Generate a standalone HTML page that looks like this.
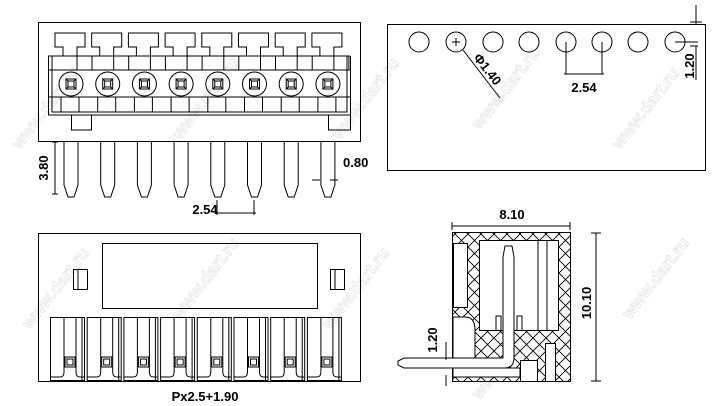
<!DOCTYPE html>
<html><head><meta charset="utf-8"><style>
html,body{margin:0;padding:0;background:#fff;}
svg{display:block;font-family:"Liberation Sans",Arial,sans-serif;}
</style></head><body>
<svg width="721" height="406" viewBox="0 0 721 406" xmlns="http://www.w3.org/2000/svg">
<defs>
<pattern id="h" width="13" height="13" patternUnits="userSpaceOnUse">
<path d="M0,0L13,13M13,0L0,13" stroke="#000" stroke-width="0.9"/>
</pattern>
<g id="top">
<path d="M63,56V47H55V33H85V47H77V56" fill="none"/>
<rect x="77" y="56" width="15" height="14" fill="none"/>
<circle cx="71" cy="84" r="12" fill="none"/>
<rect x="66" y="79" width="10" height="10" fill="none"/>
<rect x="68" y="81" width="6" height="6" fill="none"/>
<path d="M66,79L68,81M76,79L74,81M66,89L68,87M76,89L74,87" fill="none"/>
<rect x="61" y="97" width="18" height="15" fill="none"/>
<path d="M64,142V185L68,197H74L78,185V142" fill="none"/>
</g>
<g id="slot">
<rect x="50.5" y="317.5" width="34" height="63" fill="none"/>
<path d="M64,317V372Q64,377 60,377H50M76,317V372Q76,377 80,377H84M82,317V380" fill="none"/>
<rect x="65" y="357" width="10" height="10" fill="none"/>
<rect x="67" y="359" width="6" height="6" fill="none"/>
</g>
</defs>
<g fill="none" stroke="#e4e4e4" stroke-width="0.8" font-size="17" font-weight="bold">
<text transform="translate(20,150) rotate(-52)">www.dart.ru</text>
<text transform="translate(180,140) rotate(-52)">www.dart.ru</text>
<text transform="translate(340,140) rotate(-52)">www.dart.ru</text>
<text transform="translate(480,130) rotate(-52)">www.dart.ru</text>
<text transform="translate(620,150) rotate(-52)">www.dart.ru</text>
<text transform="translate(30,330) rotate(-52)">www.dart.ru</text>
<text transform="translate(180,320) rotate(-52)">www.dart.ru</text>
<text transform="translate(330,330) rotate(-52)">www.dart.ru</text>
<text transform="translate(480,400) rotate(-52)">www.dart.ru</text>
<text transform="translate(630,320) rotate(-52)">www.dart.ru</text>
</g>
<g stroke="#000" stroke-width="1" fill="none">
<rect x="38.5" y="22.5" width="322" height="119"/>
<path d="M48.5,56V115H350.5V56M52,56V112H347V56M48,56H350M48,70H350M48,97H350"/>
<use href="#top"/>
<use href="#top" x="36.7"/><use href="#top" x="73.4"/><use href="#top" x="110.1"/>
<use href="#top" x="146.8"/><use href="#top" x="183.5"/><use href="#top" x="220.2"/><use href="#top" x="256.9"/>
<rect x="71.5" y="115" width="20" height="15"/>
<rect x="328.5" y="115" width="22" height="15"/>
<path d="M55,142V194M52,142H58M52,194H58"/>
<path d="M312,180H320M330,180H338M217,200V215M254,200V215M215,213H256"/>
<rect x="38.5" y="233.5" width="322" height="148"/>
<rect x="102.5" y="243.5" width="215" height="65"/>
<rect x="73.5" y="269.5" width="14" height="20"/><path d="M78,270V289"/>
<rect x="330.5" y="269.5" width="14" height="20"/><path d="M335,270V289"/>
<use href="#slot"/>
<use href="#slot" x="36.7"/><use href="#slot" x="73.4"/><use href="#slot" x="110.1"/>
<use href="#slot" x="146.8"/><use href="#slot" x="183.5"/><use href="#slot" x="220.2"/><use href="#slot" x="256.9"/>
<rect x="387.5" y="24.5" width="318" height="146"/>
<circle cx="419" cy="42" r="10"/><circle cx="456" cy="42" r="10"/><circle cx="493" cy="42" r="10"/><circle cx="529" cy="42" r="10"/>
<circle cx="566" cy="42" r="10"/><circle cx="602" cy="42" r="10"/><circle cx="638" cy="42" r="10"/><circle cx="675" cy="42" r="10"/>
<path d="M452,42h8M456,38v8"/>
<path d="M463,50L500,98M566,42V74M602,42V74M564,74H604M675,42H698M696,24V5M696,80V46M690,22h12M690,46h8"/>
<rect x="452.5" y="232.5" width="118" height="149" fill="url(#h)"/>
<rect x="479.5" y="240.5" width="79" height="90" fill="#fff"/>
<path d="M496,330V316H501V330M517,330V316H522V330" fill="#fff"/>
<path d="M538,241V330M547,241V330"/>
<rect x="453.5" y="243.5" width="14" height="64" fill="#fff"/>
<path d="M453,317H465Q475,317 475,330V368H453Z" fill="#fff"/>
<rect x="453" y="368" width="67" height="9" fill="#fff"/>
<rect x="520.5" y="360.5" width="17" height="21" fill="#fff"/>
<rect x="545.5" y="343.5" width="10" height="38" fill="#fff"/>
<path d="M503,358V257L505,246H512L514,257V358Q514,368 504,368H404L398,365V361L404,358H503Z" fill="#fff"/>
<path d="M452,226H570M452,222V230M570,222V230M596,233V381M591,233H601M591,381H601M446,342V360M446,375V386"/>
</g>
<g fill="#000" font-size="13" font-weight="bold">
<text x="205" y="214" text-anchor="middle">2.54</text>
<text x="343" y="167">0.80</text>
<text transform="translate(48,168) rotate(-90)" text-anchor="middle">3.80</text>
<text x="205" y="401" text-anchor="middle">Px2.5+1.90</text>
<text x="584" y="92" text-anchor="middle">2.54</text>
<text transform="translate(484,72) rotate(52)" text-anchor="middle">Φ1.40</text>
<text transform="translate(694,66) rotate(-90)" text-anchor="middle">1.20</text>
<text x="512" y="219" text-anchor="middle">8.10</text>
<text transform="translate(591,303) rotate(-90)" text-anchor="middle">10.10</text>
<text transform="translate(437,340) rotate(-90)" text-anchor="middle">1.20</text>
</g>
</svg>
</body></html>
